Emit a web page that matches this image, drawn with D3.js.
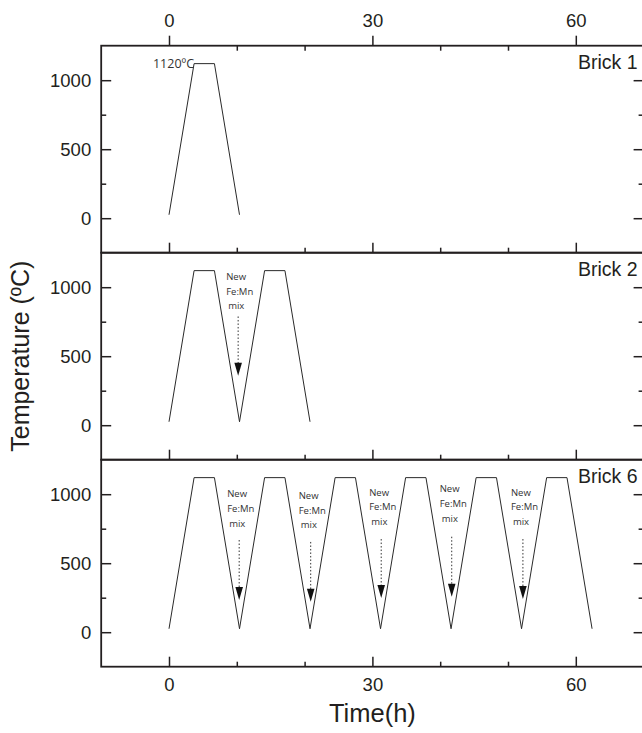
<!DOCTYPE html>
<html>
<head>
<meta charset="utf-8">
<script src="https://cdn.jsdelivr.net/npm/d3@7"></script>
<style>
  body { margin: 0; background: #fff; }
  svg { display: block; }
  .tick text { font-family: "Liberation Sans", Arial, sans-serif; font-size: 18.5px; fill: #231f20; }
  .note { font-family: "Open Sans", sans-serif; font-size: 9.5px; fill: #333; }
</style>
</head>
<body>
<svg id="chart"></svg>
<script>
// firing schedules (time in h, temperature in ºC)
const brick1Time = [0, 3.7, 6.7, 10.4];
const brick1Temp = [25, 1120, 1120, 25];
const brick2Time = [0, 3.7, 6.7, 10.4, 14.1, 17.1, 20.8];
const brick2Temp = [25, 1120, 1120, 25, 1120, 1120, 25];
const brick6Time = [0, 3.7, 6.7, 10.4, 14.1, 17.1, 20.8, 24.5, 27.5, 31.2, 34.9, 37.9, 41.6, 45.3, 48.3, 52.0, 55.7, 58.7, 62.4];
const brick6Temp = [25, 1120, 1120, 25, 1120, 1120, 25, 1120, 1120, 25, 1120, 1120, 25, 1120, 1120, 25, 1120, 1120, 25];

const panelNames = ['Brick 1', 'Brick 2', 'Brick 6'];

// "New Fe:Mn mix" arrows
const arrow2Time = [10.2];
const arrow2Top = [788];
const arrow2Tip = [359];
const arrow2Label = [1076];
const arrow6Time = [10.35, 20.9, 31.3, 41.7, 52.2];
const arrow6Top = [668, 654, 675, 692, 675];
const arrow6Tip = [233, 221, 248, 257, 241];
const arrow6Label = [1001, 989, 1014, 1038, 1014];
const noteLines = ['New', 'Fe:Mn', 'mix'];

const xMajor = [0, 30, 60],
      xMinor = [10, 20, 40, 50],
      yMajor = [0, 500, 1000],
      yMinor = [250, 750];

const WIDTH = 642,
      HEIGHT = 733,
      MARGINS = { top: 45.7, left: 101.2 },
      PANEL_H = 207,
      INK = '#231f20';

let svg = d3.select('#chart')
   .attr('width', WIDTH)
   .attr('height', HEIGHT);

const x = d3.scaleLinear().domain([-10, 70]).range([MARGINS.left, MARGINS.left + 542.4]);

const panels = [
   { time: brick1Time, temp: brick1Temp, arrows: null },
   { time: brick2Time, temp: brick2Temp, arrows: { t: arrow2Time, top: arrow2Top, tip: arrow2Tip, lab: arrow2Label } },
   { time: brick6Time, temp: brick6Temp, arrows: { t: arrow6Time, top: arrow6Top, tip: arrow6Tip, lab: arrow6Label } }
];

const styleAxis = (g) => {
   g.select('.domain').remove();
   g.selectAll('line').attr('stroke', INK).attr('stroke-width', 1.5);
};

panels.forEach((p, i) => {
   const top = MARGINS.top + i * PANEL_H,
         bottom = top + PANEL_H;
   const y = d3.scaleLinear().domain([-250, 1250]).range([bottom, top]);

   let g = svg.append('g');

   // left axis
   g.append('g')
      .attr('transform', 'translate(' + x(-10) + ',0)')
      .call(d3.axisLeft(y).tickValues(yMajor).tickSize(-10).tickPadding(10).tickFormat(d3.format('d')))
      .call(styleAxis);
   g.append('g')
      .attr('transform', 'translate(' + x(-10) + ',0)')
      .call(d3.axisLeft(y).tickValues(yMinor).tickSize(-5).tickFormat(''))
      .call(styleAxis);

   // right axis (ticks only)
   g.append('g')
      .attr('transform', 'translate(' + x(70) + ',0)')
      .call(d3.axisRight(y).tickValues(yMajor).tickSize(-10).tickFormat(''))
      .call(styleAxis);
   g.append('g')
      .attr('transform', 'translate(' + x(70) + ',0)')
      .call(d3.axisRight(y).tickValues(yMinor).tickSize(-5).tickFormat(''))
      .call(styleAxis);

   // bottom ticks, labels only on the last panel
   g.append('g')
      .attr('transform', 'translate(0,' + bottom + ')')
      .call(d3.axisBottom(x).tickValues(xMajor).tickSize(-10).tickPadding(11)
         .tickFormat(i === 2 ? d3.format('d') : ''))
      .call(styleAxis);
   g.append('g')
      .attr('transform', 'translate(0,' + bottom + ')')
      .call(d3.axisBottom(x).tickValues(xMinor).tickSize(-5).tickFormat(''))
      .call(styleAxis);

   if (i === 0) {
      g.append('g')
         .attr('transform', 'translate(0,' + top + ')')
         .call(d3.axisTop(x).tickValues(xMajor).tickSize(10).tickPadding(9))
         .call(styleAxis);
      g.append('g')
         .attr('transform', 'translate(0,' + top + ')')
         .call(d3.axisTop(x).tickValues(xMinor).tickSize(-5).tickFormat(''))
         .call(styleAxis);
   }

   // frame
   g.append('rect')
      .attr('x', x(-10))
      .attr('y', top)
      .attr('width', x(70) - x(-10))
      .attr('height', PANEL_H)
      .attr('fill', 'none')
      .attr('stroke', INK)
      .attr('stroke-width', 1.8);

   const line = d3.line()
      .x(d => x(d[0]))
      .y(d => y(d[1]));

   g.append('path')
      .datum(d3.zip(p.time, p.temp))
      .attr('fill', 'none')
      .attr('stroke', '#2a2a2a')
      .attr('stroke-width', 1)
      .attr('stroke-linejoin', 'miter')
      .attr('d', line);

   g.append('text')
      .attr('x', x(70) - 6)
      .attr('y', top + 23.5)
      .attr('text-anchor', 'end')
      .style('font-family', '"Liberation Sans", Arial, sans-serif')
      .style('font-size', '19.5px')
      .attr('fill', INK)
      .text(panelNames[i]);

   if (i === 0) {
      g.append('text')
         .attr('x', x(p.time[1]))
         .attr('y', y(p.temp[1]) + 4.5)
         .attr('text-anchor', 'end')
         .style('font-family', '"Open Sans", sans-serif')
         .style('font-size', '12.5px')
         .attr('fill', '#333')
         .text('1120ºC');
   }

   if (p.arrows) {
      const a = p.arrows;
      a.t.forEach((t, k) => {
         const ax = x(t);
         noteLines.forEach((s, n) => {
            g.append('text')
               .attr('class', 'note')
               .attr('x', ax - (n === 2 ? 10 : 12))
               .attr('y', y(a.lab[k]) + n * 14.7)
               .attr('dy', '0.35em')
               .text(s);
         });
         g.append('line')
            .attr('x1', ax).attr('x2', ax)
            .attr('y1', y(a.top[k]))
            .attr('y2', y(a.tip[k]) - 12)
            .attr('stroke', '#333')
            .attr('stroke-width', 1)
            .attr('stroke-dasharray', '1.5,2');
         g.append('path')
            .attr('d', 'M' + (ax - 3.8) + ',' + (y(a.tip[k]) - 13) +
                       'L' + (ax + 3.8) + ',' + (y(a.tip[k]) - 13) +
                       'L' + ax + ',' + y(a.tip[k]) + 'Z')
            .attr('fill', '#111');
      });
   }
});

// axis titles
svg.append('text')
   .attr('transform', 'translate(29,' + (MARGINS.top + 1.5 * PANEL_H) + ') rotate(-90)')
   .attr('text-anchor', 'middle')
   .style('font-family', '"Liberation Sans", Arial, sans-serif')
   .style('font-size', '25px')
   .attr('fill', INK)
   .text('Temperature (ºC)');

svg.append('text')
   .attr('x', (x(-10) + x(70)) / 2)
   .attr('y', 721.5)
   .attr('text-anchor', 'middle')
   .style('font-family', '"Liberation Sans", Arial, sans-serif')
   .style('font-size', '25.5px')
   .attr('fill', INK)
   .text('Time(h)');
</script>
</body>
</html>
